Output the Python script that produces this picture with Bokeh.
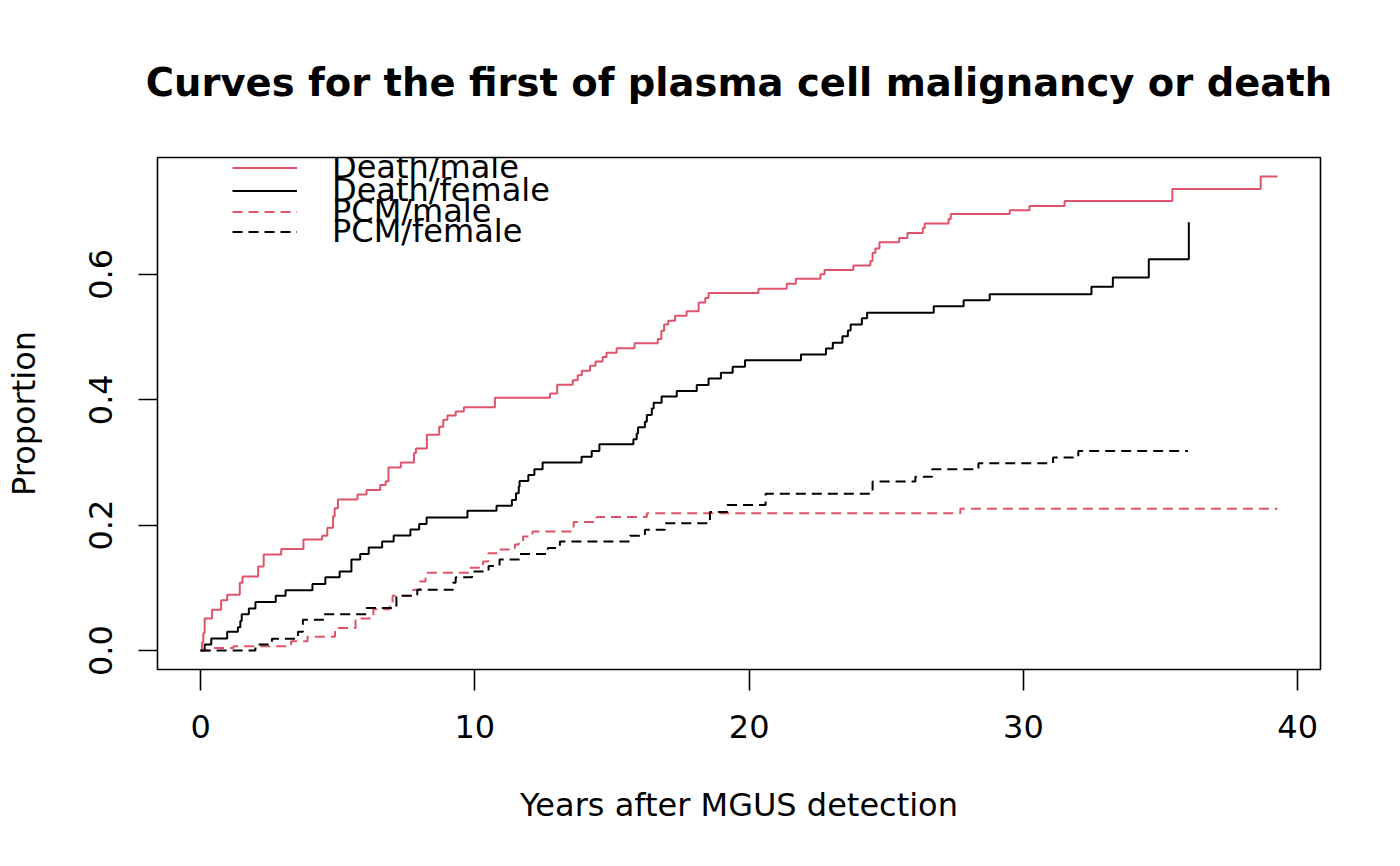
from bokeh.plotting import figure
from bokeh.models import Range1d, FixedTicker, PrintfTickFormatter, Legend, LegendItem
from bokeh.embed import file_html
from bokeh.resources import INLINE

# ---- data ----
death_male_t = [0, 0.05, 0.10, 0.15, 0.42, 0.75, 0.97, 1.43, 1.53, 2.10, 2.30, 2.94, 3.75,
                4.43, 4.62, 4.83, 4.89, 5.01, 5.72, 6.05, 6.55, 6.75, 6.85, 7.30, 7.78, 7.85,
                8.25, 8.70, 8.85, 9.00, 9.30, 9.60, 10.73, 12.74, 13.00, 13.57, 13.75, 13.90,
                14.20, 14.40, 14.66, 14.80, 15.17, 15.82, 16.67, 16.80, 16.90, 17.05, 17.30,
                17.72, 18.16, 18.40, 18.52, 20.34, 21.37, 21.70, 22.60, 22.75, 23.80, 24.42,
                24.50, 24.60, 24.75, 25.47, 25.77, 26.33, 26.40, 27.27, 27.35, 29.50, 30.22,
                31.50, 35.43, 38.65, 39.26]
death_male_p = [0, 0.013, 0.028, 0.051, 0.065, 0.080, 0.089, 0.108, 0.118, 0.134, 0.153, 0.162,
                0.177, 0.183, 0.196, 0.214, 0.227, 0.241, 0.249, 0.256, 0.264, 0.270, 0.292,
                0.300, 0.315, 0.322, 0.344, 0.357, 0.368, 0.375, 0.381, 0.388, 0.403, 0.410,
                0.424, 0.431, 0.439, 0.446, 0.454, 0.461, 0.468, 0.475, 0.482, 0.490, 0.497,
                0.510, 0.520, 0.526, 0.534, 0.541, 0.555, 0.562, 0.570, 0.577, 0.585, 0.593,
                0.600, 0.607, 0.614, 0.621, 0.634, 0.641, 0.651, 0.658, 0.666, 0.674, 0.681,
                0.688, 0.696, 0.702, 0.709, 0.717, 0.736, 0.756, 0.756]

death_female_t = [0, 0.15, 0.39, 0.97, 1.36, 1.45, 1.50, 1.76, 2.00, 2.74, 3.10, 4.08, 4.55,
                  5.07, 5.50, 5.82, 6.13, 6.62, 7.04, 7.65, 7.97, 8.24, 9.73, 10.79, 11.35,
                  11.50, 11.60, 11.63, 11.95, 12.17, 12.47, 13.89, 14.26, 14.54, 15.78, 15.90,
                  15.95, 16.20, 16.27, 16.45, 16.52, 16.81, 17.36, 18.09, 18.52, 18.97, 19.40,
                  19.85, 21.89, 22.80, 23.05, 23.40, 23.60, 23.70, 24.11, 24.30, 26.73, 27.82,
                  28.77, 32.48, 33.26, 34.57, 36.03]
death_female_p = [0, 0.0095, 0.019, 0.030, 0.037, 0.047, 0.058, 0.067, 0.0775, 0.0875, 0.096,
                  0.106, 0.117, 0.126, 0.145, 0.154, 0.1645, 0.174, 0.1835, 0.193, 0.2016,
                  0.212, 0.2228, 0.231, 0.240, 0.251, 0.2615, 0.2705, 0.280, 0.289, 0.2997,
                  0.309, 0.318, 0.329, 0.337, 0.346, 0.356, 0.365, 0.3756, 0.386, 0.395, 0.405,
                  0.414, 0.4234, 0.434, 0.443, 0.4525, 0.463, 0.472, 0.4818, 0.4907, 0.501,
                  0.5104, 0.520, 0.530, 0.5385, 0.549, 0.5587, 0.568, 0.580, 0.5947, 0.624, 0.683]

pcm_male_t = [0, 0.40, 1.20, 3.30, 3.90, 4.90, 5.65, 6.30, 6.90, 7.00, 7.75, 8.00, 8.20, 9.80,
              10.30, 10.49, 10.85, 11.46, 11.60, 11.76, 12.10, 13.60, 14.44, 16.27, 27.70, 39.26]
pcm_male_p = [0, 0.004, 0.007, 0.015, 0.022, 0.036, 0.051, 0.066, 0.075, 0.0875, 0.097, 0.110,
              0.124, 0.132, 0.142, 0.155, 0.161, 0.169, 0.174, 0.182, 0.190, 0.205, 0.213,
              0.219, 0.226, 0.226]

pcm_female_t = [0, 2.00, 2.60, 3.55, 3.73, 4.50, 6.05, 7.14, 7.90, 9.20, 9.30, 9.90, 10.50,
                10.90, 11.64, 12.66, 13.10, 15.66, 16.20, 16.93, 18.57, 19.20, 20.60, 24.50,
                26.06, 26.67, 28.36, 31.08, 32.00, 36.00]
pcm_female_p = [0, 0.0095, 0.0186, 0.030, 0.049, 0.058, 0.068, 0.0875, 0.097, 0.108, 0.117,
                0.126, 0.135, 0.145, 0.154, 0.1635, 0.174, 0.183, 0.1926, 0.203, 0.221, 0.232,
                0.250, 0.2695, 0.277, 0.289, 0.2987, 0.3077, 0.318, 0.318]

series_labels = ["Death/male", "Death/female", "PCM/male", "PCM/female"]
x_ticks = [0, 10, 20, 30, 40]
y_ticks = [0.0, 0.2, 0.4, 0.6]

RED = "#DF536B"
FONT = "DejaVu Sans"

# R-style 4% range expansion
all_t = death_male_t + death_female_t + pcm_male_t + pcm_female_t
all_p = death_male_p + death_female_p + pcm_male_p + pcm_female_p
tmin, tmax = min(all_t), max(all_t)
pmin, pmax = min(all_p), max(all_p)
dx = 0.04 * (tmax - tmin)
dy = 0.04 * (pmax - pmin)

p = figure(width=1392, height=858, output_backend="svg", toolbar_location=None,
           x_range=Range1d(tmin - dx, tmax + dx), y_range=Range1d(pmin - dy, pmax + dy),
           min_border_left=157, min_border_right=72, min_border_top=157, min_border_bottom=189)

p.background_fill_color = "white"
p.border_fill_color = "white"
p.outline_line_color = "black"
p.outline_line_width = 1.6
p.grid.visible = False

p.title.text = "Curves for the first of plasma cell malignancy or death"
p.title.text_font = FONT
p.title.text_font_size = "38.5px"
p.title.text_font_style = "bold"
p.title.align = "center"
p.title.text_color = "black"
p.title.standoff = 105

for ax in (p.xaxis[0], p.yaxis[0]):
    ax.axis_line_color = None
    ax.major_tick_in = 0
    ax.minor_tick_line_color = None
    ax.major_tick_line_color = "black"
    ax.major_tick_line_width = 1.6
    ax.major_label_text_font = FONT
    ax.major_label_text_font_size = "32px"
    ax.major_label_text_color = "black"
    ax.axis_label_text_font = FONT
    ax.axis_label_text_font_size = "32px"
    ax.axis_label_text_font_style = "normal"
    ax.axis_label_text_color = "black"

p.xaxis.ticker = FixedTicker(ticks=x_ticks)
p.xaxis.major_tick_out = 21
p.xaxis.major_label_standoff = 24
p.xaxis.axis_label = "Years after MGUS detection"
p.xaxis.axis_label_standoff = 45

p.yaxis.ticker = FixedTicker(ticks=y_ticks)
p.yaxis.formatter = PrintfTickFormatter(format="%.1f")
p.yaxis.major_tick_out = 19
p.yaxis.major_label_standoff = 26
p.yaxis.major_label_orientation = "vertical"
p.yaxis.axis_label = "Proportion"
p.yaxis.axis_label_standoff = 44

r1 = p.step(death_male_t, death_male_p, mode="after", line_color=RED, line_width=2)
r2 = p.step(death_female_t, death_female_p, mode="after", line_color="black", line_width=2)
r3 = p.step(pcm_male_t, pcm_male_p, mode="after", line_color=RED, line_width=2,
            line_dash="10 6")
r4 = p.step(pcm_female_t, pcm_female_p, mode="after", line_color="black", line_width=2,
            line_dash="10 6")

# one legend per entry so that the entries can sit closer than their text height (as in R)
item_h = 36
centers_from_bottom = [501, 478, 457, 437]
for lab, r, cy in zip(series_labels, [r1, r2, r3, r4], centers_from_bottom):
    lg = Legend(items=[LegendItem(label=lab, renderers=[r])])
    lg.location = (75, cy - item_h // 2)
    lg.padding = 0
    lg.margin = 0
    lg.spacing = 0
    lg.border_line_color = None
    lg.background_fill_alpha = 0
    lg.label_text_font = FONT
    lg.label_text_font_size = "32px"
    lg.label_text_color = "black"
    lg.glyph_width = 65
    lg.glyph_height = 21
    lg.label_height = 21
    lg.label_standoff = 35
    p.add_layout(lg, "center")

open("out.html", "w").write(file_html(p, INLINE))
